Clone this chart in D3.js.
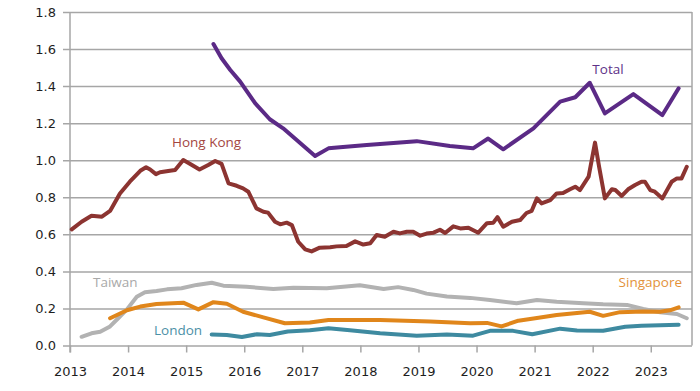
<!DOCTYPE html>
<html>
<head>
<meta charset="utf-8">
<script src="https://cdn.jsdelivr.net/npm/d3@7"></script>
<style>
  body { margin: 0; background: #fff; }
  svg { display: block; }
</style>
</head>
<body>
<svg id="chart"></svg>
<script>
const width = 700, height = 391;
const margin = {top: 12, right: 8, bottom: 45.5, left: 70};

// tick values
const xTicks = [2013, 2014, 2015, 2016, 2017, 2018, 2019, 2020, 2021, 2022, 2023];
const yTicks = [0, 0.2, 0.4, 0.6, 0.8, 1.0, 1.2, 1.4, 1.6, 1.8];

// series: [decimal year, value]
const total = [
  [2015.47, 1.627], [2015.61, 1.55], [2015.76, 1.487], [2015.93, 1.424], [2016.19, 1.307],
  [2016.44, 1.221], [2016.67, 1.172], [2017.22, 1.023], [2017.45, 1.064], [2017.65, 1.07],
  [2018.11, 1.082], [2018.97, 1.103], [2019.54, 1.077], [2019.94, 1.064], [2020.20, 1.117],
  [2020.46, 1.059], [2020.98, 1.172], [2021.44, 1.316], [2021.70, 1.34], [2021.95, 1.418],
  [2022.21, 1.253], [2022.70, 1.357], [2023.20, 1.244], [2023.48, 1.388]
];

const hongKong = [
  [2013.03, 0.627], [2013.20, 0.668], [2013.37, 0.70], [2013.55, 0.695], [2013.69, 0.726],
  [2013.86, 0.82], [2014.03, 0.884], [2014.21, 0.943], [2014.31, 0.962], [2014.38, 0.95],
  [2014.48, 0.925], [2014.55, 0.935], [2014.72, 0.943], [2014.81, 0.947], [2014.95, 1.001],
  [2015.07, 0.98], [2015.23, 0.95], [2015.38, 0.974], [2015.50, 0.996], [2015.61, 0.98],
  [2015.73, 0.875], [2015.87, 0.862], [2015.98, 0.848], [2016.07, 0.83], [2016.21, 0.74],
  [2016.33, 0.722], [2016.41, 0.717], [2016.53, 0.668], [2016.62, 0.654], [2016.73, 0.663],
  [2016.82, 0.65], [2016.93, 0.56], [2017.05, 0.519], [2017.16, 0.508], [2017.30, 0.528],
  [2017.48, 0.53], [2017.59, 0.535], [2017.76, 0.537], [2017.91, 0.562], [2018.05, 0.545],
  [2018.17, 0.552], [2018.28, 0.596], [2018.42, 0.587], [2018.57, 0.614], [2018.68, 0.605],
  [2018.80, 0.614], [2018.91, 0.614], [2019.03, 0.593], [2019.14, 0.604], [2019.26, 0.609],
  [2019.37, 0.625], [2019.46, 0.607], [2019.60, 0.643], [2019.72, 0.632], [2019.86, 0.636],
  [2020.03, 0.609], [2020.18, 0.66], [2020.29, 0.663], [2020.36, 0.693], [2020.46, 0.641],
  [2020.61, 0.668], [2020.75, 0.677], [2020.86, 0.715], [2020.95, 0.727], [2021.04, 0.794],
  [2021.12, 0.767], [2021.27, 0.785], [2021.38, 0.821], [2021.49, 0.823], [2021.61, 0.843],
  [2021.70, 0.857], [2021.78, 0.839], [2021.93, 0.911], [2022.04, 1.095], [2022.11, 0.965],
  [2022.21, 0.794], [2022.33, 0.843], [2022.39, 0.839], [2022.50, 0.807], [2022.61, 0.843],
  [2022.73, 0.866], [2022.84, 0.884], [2022.90, 0.884], [2022.99, 0.839], [2023.07, 0.83],
  [2023.20, 0.794], [2023.36, 0.884], [2023.45, 0.902], [2023.53, 0.902], [2023.62, 0.965]
];

const taiwan = [
  [2013.20, 0.047], [2013.37, 0.066], [2013.52, 0.074], [2013.69, 0.103], [2013.83, 0.147],
  [2013.98, 0.195], [2014.15, 0.263], [2014.29, 0.287], [2014.49, 0.294], [2014.67, 0.303],
  [2014.92, 0.309], [2015.18, 0.327], [2015.44, 0.339], [2015.64, 0.323], [2016.04, 0.317],
  [2016.50, 0.305], [2016.85, 0.312], [2017.42, 0.309], [2017.99, 0.325], [2018.40, 0.305],
  [2018.65, 0.315], [2018.91, 0.30], [2019.14, 0.28], [2019.49, 0.264], [2019.89, 0.257],
  [2020.23, 0.246], [2020.69, 0.228], [2021.04, 0.246], [2021.38, 0.236], [2021.84, 0.228],
  [2022.18, 0.222], [2022.59, 0.219], [2022.87, 0.197], [2023.16, 0.179], [2023.45, 0.17],
  [2023.62, 0.147]
];

const singapore = [
  [2013.69, 0.147], [2013.98, 0.19], [2014.21, 0.21], [2014.49, 0.224], [2014.95, 0.231],
  [2015.21, 0.195], [2015.47, 0.234], [2015.70, 0.225], [2015.98, 0.182], [2016.33, 0.152],
  [2016.70, 0.12], [2017.13, 0.124], [2017.45, 0.138], [2018.34, 0.138], [2019.20, 0.13],
  [2019.89, 0.12], [2020.18, 0.122], [2020.43, 0.103], [2020.72, 0.134], [2021.04, 0.148],
  [2021.38, 0.165], [2021.73, 0.176], [2021.95, 0.182], [2022.18, 0.16], [2022.47, 0.18],
  [2022.87, 0.184], [2023.16, 0.182], [2023.33, 0.19], [2023.48, 0.206]
];

const london = [
  [2015.44, 0.06], [2015.70, 0.057], [2015.96, 0.046], [2016.22, 0.061], [2016.44, 0.057],
  [2016.75, 0.076], [2017.13, 0.082], [2017.45, 0.093], [2017.82, 0.082], [2018.34, 0.066],
  [2018.97, 0.053], [2019.49, 0.06], [2019.94, 0.053], [2020.23, 0.079], [2020.63, 0.079],
  [2020.96, 0.061], [2021.44, 0.091], [2021.73, 0.081], [2022.18, 0.08], [2022.56, 0.101],
  [2022.84, 0.107], [2023.48, 0.112]
];

const series = [
  {name: "Taiwan", data: taiwan, color: "#b2b2b2", labelColor: "#a9a9a9", label: [93, 287, "start"]},
  {name: "Singapore", data: singapore, color: "#e0861b", labelColor: "#e3923a", label: [682, 287, "end"]},
  {name: "London", data: london, color: "#3e8aa0", labelColor: "#4b90a6", label: [154, 335, "start"]},
  {name: "Hong Kong", data: hongKong, color: "#8c3431", labelColor: "#a4463f", label: [172, 147, "start"]},
  {name: "Total", data: total, color: "#5b2a86", labelColor: "#5e3288", label: [608, 74, "middle"]}
];

const svg = d3.select("#chart")
    .attr("width", width)
    .attr("height", height);

const x = d3.scaleLinear()
    .domain([2013, 2023.71])
    .range([margin.left, width - margin.right]);
const y = d3.scaleLinear()
    .domain([0, 1.8])
    .range([height - margin.bottom, margin.top]);

const gridColor = "#a6a6a6";

// horizontal gridlines + y labels
svg.append("g")
    .attr("transform", `translate(${margin.left},0)`)
    .call(d3.axisLeft(y).tickValues(yTicks).tickFormat(d3.format(".1f"))
        .tickSize(-(width - margin.left - margin.right)).tickPadding(14))
    .call(g => g.select(".domain").remove())
    .call(g => g.selectAll(".tick line")
        .attr("x1", -7)
        .attr("stroke", gridColor)
        .attr("stroke-width", 1.5))
    .call(g => g.selectAll(".tick text")
        .attr("font-family", "'DejaVu Sans', Verdana, sans-serif")
        .attr("font-size", 13)
        .attr("fill", "#1e1e1e"));

// x axis
svg.append("g")
    .attr("transform", `translate(0,${height - margin.bottom})`)
    .call(d3.axisBottom(x).tickValues(xTicks).tickFormat(d3.format("d"))
        .tickSize(7).tickPadding(14))
    .call(g => g.select(".domain").remove())
    .call(g => g.selectAll(".tick line")
        .attr("stroke", gridColor)
        .attr("stroke-width", 1.5))
    .call(g => g.selectAll(".tick text")
        .attr("font-family", "'DejaVu Sans', Verdana, sans-serif")
        .attr("font-size", 13)
        .attr("fill", "#1e1e1e"));

// frame: left axis line and right border
svg.append("line")
    .attr("x1", x(2013)).attr("x2", x(2013))
    .attr("y1", y(1.8)).attr("y2", y(0) + 7)
    .attr("stroke", gridColor).attr("stroke-width", 1.5);
svg.append("line")
    .attr("x1", x.range()[1]).attr("x2", x.range()[1])
    .attr("y1", y(1.8)).attr("y2", y(0))
    .attr("stroke", gridColor).attr("stroke-width", 1.5);

const line = d3.line()
    .x(d => x(d[0]))
    .y(d => y(d[1]));

series.forEach(s => {
  svg.append("path")
      .datum(s.data)
      .attr("fill", "none")
      .attr("stroke", s.color)
      .attr("stroke-width", 4)
      .attr("stroke-linejoin", "round")
      .attr("stroke-linecap", "round")
      .attr("d", line);

  svg.append("text")
      .attr("x", s.label[0])
      .attr("y", s.label[1])
      .attr("text-anchor", s.label[2])
      .attr("font-family", "'Open Sans', sans-serif")
      .attr("font-size", 13.5)
      .attr("fill", s.labelColor)
      .text(s.name);
});
</script>
</body>
</html>
